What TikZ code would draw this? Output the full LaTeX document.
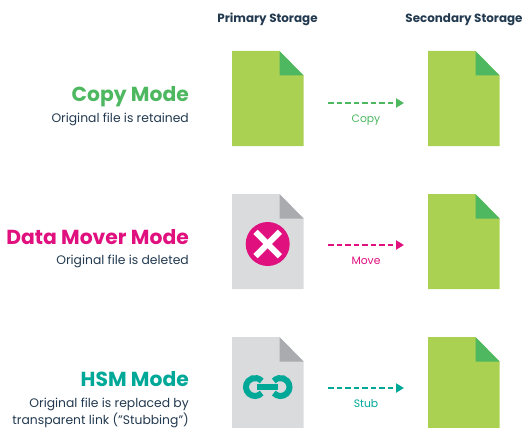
\documentclass[tikz,border=0pt]{standalone}
\usepackage{fontspec}
\setmainfont{Poppins}
\usetikzlibrary{arrows.meta}
\definecolor{cgreen}{HTML}{4DB860}
\definecolor{cpink}{HTML}{E0107F}
\definecolor{cteal}{HTML}{00A898}
\definecolor{cdark}{HTML}{22394F}
\definecolor{leaf}{HTML}{ABD152}
\definecolor{paper}{HTML}{D9DBDD}
\definecolor{foldgray}{HTML}{A9ABAE}
\tikzset{
  x=1pt,y=-1pt,
  head/.style={font=\fontsize{11.9}{13}\selectfont\bfseries,text=cdark,inner sep=0pt,anchor=base},
  mode/.style={font=\fontsize{20.3}{22}\selectfont\bfseries,inner sep=0pt,anchor=base east},
  sub/.style={font=\fontsize{12.35}{14}\selectfont,text=cdark,inner sep=0pt,anchor=base east},
  lab/.style={font=\fontsize{10.8}{12}\selectfont,inner sep=0pt,anchor=base},
  flow/.style={line width=2pt,dash pattern=on 5.5pt off 3pt,-{Triangle[length=8pt,width=9pt]}},
  pics/docfile/.style n args={2}{code={
    \fill[#1] (0,0) -- (47.5,0) -- (71.5,24.5) -- (71.5,95) -- (0,95) -- cycle;
    \fill[#2] (47.5,0) -- (71.5,24.5) -- (47.5,24.5) -- cycle;
  }}
}
\begin{document}
\begin{tikzpicture}
\useasboundingbox (0,0) rectangle (525,428);
\clip (0,0) rectangle (525,428);
\node[head] (hp) at (267.5,23) {Primary Storage};
\node[head] (hs) at (464,23) {Secondary Storage};
% files
\pic at (232,51) {docfile={leaf}{cgreen}};
\pic at (428,51) {docfile={leaf}{cgreen}};
\pic at (232,194) {docfile={paper}{foldgray}};
\pic at (428,194) {docfile={leaf}{cgreen}};
\pic at (232,337) {docfile={paper}{foldgray}};
\pic at (428,337) {docfile={leaf}{cgreen}};
% delete icon
\fill[cpink] (267.7,244) circle (22);
\draw[white,line width=6pt] (255.5,231.8) -- (279.9,256.2);
\draw[white,line width=6pt] (255.5,256.2) -- (279.9,231.8);
% link icon
\draw[cteal,line width=6pt] (255,387) ++(42:9) arc[start angle=42,end angle=318,radius=9];
\draw[cteal,line width=6pt] (280.5,387) ++(138:9) arc[start angle=138,end angle=-138,radius=9];
\fill[cteal] (257,384) rectangle (278,390);
% labels left
\node[mode,text=cgreen] (m1) at (189,101) {Copy Mode};
\node[sub] (s1) at (189,122) {Original file is retained};
\node[mode,text=cpink] (m2) at (189,244) {Data Mover Mode};
\node[sub] (s2) at (189,264) {Original file is deleted};
\node[mode,text=cteal] (m3) at (189,386) {HSM Mode};
\node[sub] (s3) at (189,407) {Original file is replaced by};
\node[sub] (s4) at (189,424) {transparent link ("Stubbing")};
% arrows
\coordinate (a1) at (328,103); \coordinate (b1) at (404,103);
\coordinate (a2) at (328,245); \coordinate (b2) at (404,245);
\coordinate (a3) at (328,388); \coordinate (b3) at (404,388);
\draw[flow,cgreen] (a1) -- (b1);
\draw[flow,cpink] (a2) -- (b2);
\draw[flow,cteal] (a3) -- (b3);
\node[lab,text=cgreen] (l1) at (366,122) {Copy};
\node[lab,text=cpink] (l2) at (366,264) {Move};
\node[lab,text=cteal] (l3) at (366,407) {Stub};
\end{tikzpicture}
\end{document}
